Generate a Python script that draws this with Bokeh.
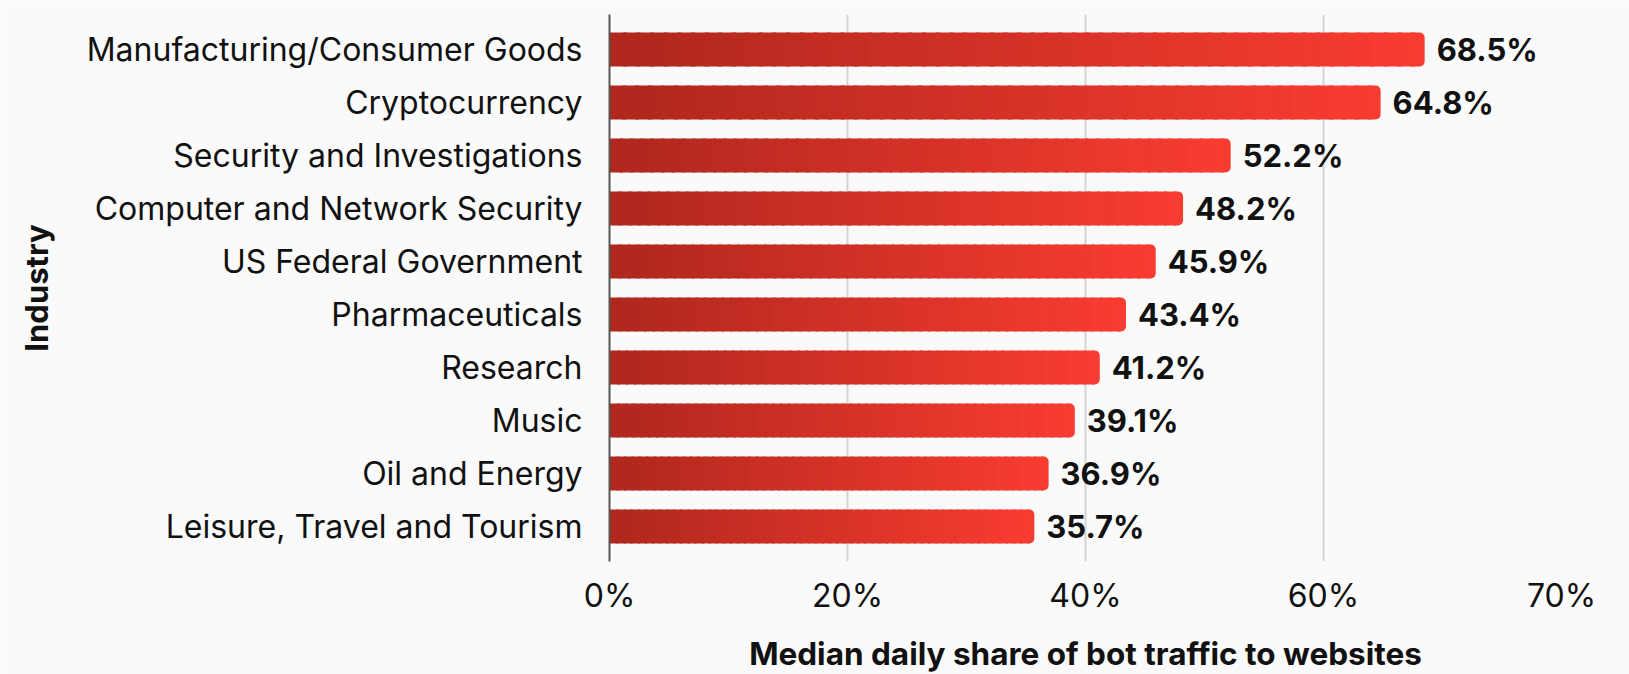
from bokeh.plotting import figure
from bokeh.models import FactorRange, Range1d, FixedTicker, ColumnDataSource
from bokeh.core.properties import value
from bokeh.embed import file_html
from bokeh.resources import INLINE

industries = [
    "Manufacturing/Consumer Goods",
    "Cryptocurrency",
    "Security and Investigations",
    "Computer and Network Security",
    "US Federal Government",
    "Pharmaceuticals",
    "Research",
    "Music",
    "Oil and Energy",
    "Leisure, Travel and Tourism",
]
shares = [68.5, 64.8, 52.2, 48.2, 45.9, 43.4, 41.2, 39.1, 36.9, 35.7]
value_labels = ["68.5%", "64.8%", "52.2%", "48.2%", "45.9%", "43.4%", "41.2%", "39.1%", "36.9%", "35.7%"]
tick_positions = [0, 20, 40, 60, 80]
tick_labels = ["0%", "20%", "40%", "60%", "70%"]

C0 = (174, 39, 29)
C1 = (250, 60, 49)
BG = "#fafafa"
FONT = "Inter"

p = figure(
    frame_width=952, frame_height=547,
    y_range=FactorRange(factors=list(reversed(industries)), range_padding=0.16, range_padding_units="absolute"),
    x_range=Range1d(0, 80),
    output_backend="svg", toolbar_location=None,
    min_border_left=609, min_border_right=68, min_border_top=14, min_border_bottom=113,
    background_fill_color=BG, border_fill_color=BG,
)
p.outline_line_color = None

# gradient bars built from slices
N = 60
lefts, rights, ys, cols = [], [], [], []
end_l, end_r, end_y, end_c = [], [], [], []
for name, v in zip(industries, shares):
    for i in range(N):
        t = (i + 0.5) / N
        c = tuple(int(round(a + (b - a) * t)) for a, b in zip(C0, C1))
        col = "#%02x%02x%02x" % c
        l = v * i / N
        r = v * (i + 1) / N
        if i == N - 1:
            end_l.append(l); end_r.append(r); end_y.append(name); end_c.append(col)
        else:
            lefts.append(l); rights.append(r + v / N * 0.3); ys.append(name); cols.append(col)

p.hbar(y=ys, left=lefts, right=rights, height=0.64, fill_color=cols, line_color=None)
p.hbar(y=end_y, left=end_l, right=end_r, height=0.64, fill_color=end_c, line_color=None,
       border_radius=(0, 5, 5, 0))

src = ColumnDataSource(dict(x=shares, y=industries, t=value_labels))
p.text(x="x", y="y", text="t", source=src, x_offset=12, text_baseline="middle",
       text_font=value(FONT), text_font_style="bold", text_font_size="31px", text_color="#111111")

# axes
p.xaxis.ticker = FixedTicker(ticks=tick_positions)
p.xaxis.major_label_overrides = {pos: lab for pos, lab in zip(tick_positions, tick_labels)}
p.xaxis.axis_line_color = None
p.xaxis.major_tick_line_color = None
p.xaxis.minor_tick_line_color = None
p.xaxis.major_label_standoff = 8
p.xaxis.major_label_text_font = FONT
p.xaxis.major_label_text_font_size = "32px"
p.xaxis.major_label_text_color = "#111111"
p.xaxis.axis_label = "Median daily share of bot traffic to websites"
p.xaxis.axis_label_text_font = FONT
p.xaxis.axis_label_text_font_style = "bold"
p.xaxis.axis_label_text_font_size = "31.5px"
p.xaxis.axis_label_text_color = "#111111"
p.xaxis.axis_label_standoff = 16

p.yaxis.axis_line_color = "#555555"
p.yaxis.axis_line_width = 2
p.yaxis.major_tick_line_color = None
p.yaxis.minor_tick_line_color = None
p.yaxis.major_label_standoff = 21
p.yaxis.major_label_text_font = FONT
p.yaxis.major_label_text_font_size = "32px"
p.yaxis.major_label_text_color = "#111111"
p.yaxis.axis_label = "Industry"
p.yaxis.axis_label_text_font = FONT
p.yaxis.axis_label_text_font_style = "bold"
p.yaxis.axis_label_text_font_size = "31px"
p.yaxis.axis_label_text_color = "#111111"
p.yaxis.axis_label_standoff = 29

p.ygrid.grid_line_color = None
p.xgrid.grid_line_color = "#d4d4d4"
p.xgrid.grid_line_width = 2

open("out.html", "w").write(file_html(p, INLINE))
